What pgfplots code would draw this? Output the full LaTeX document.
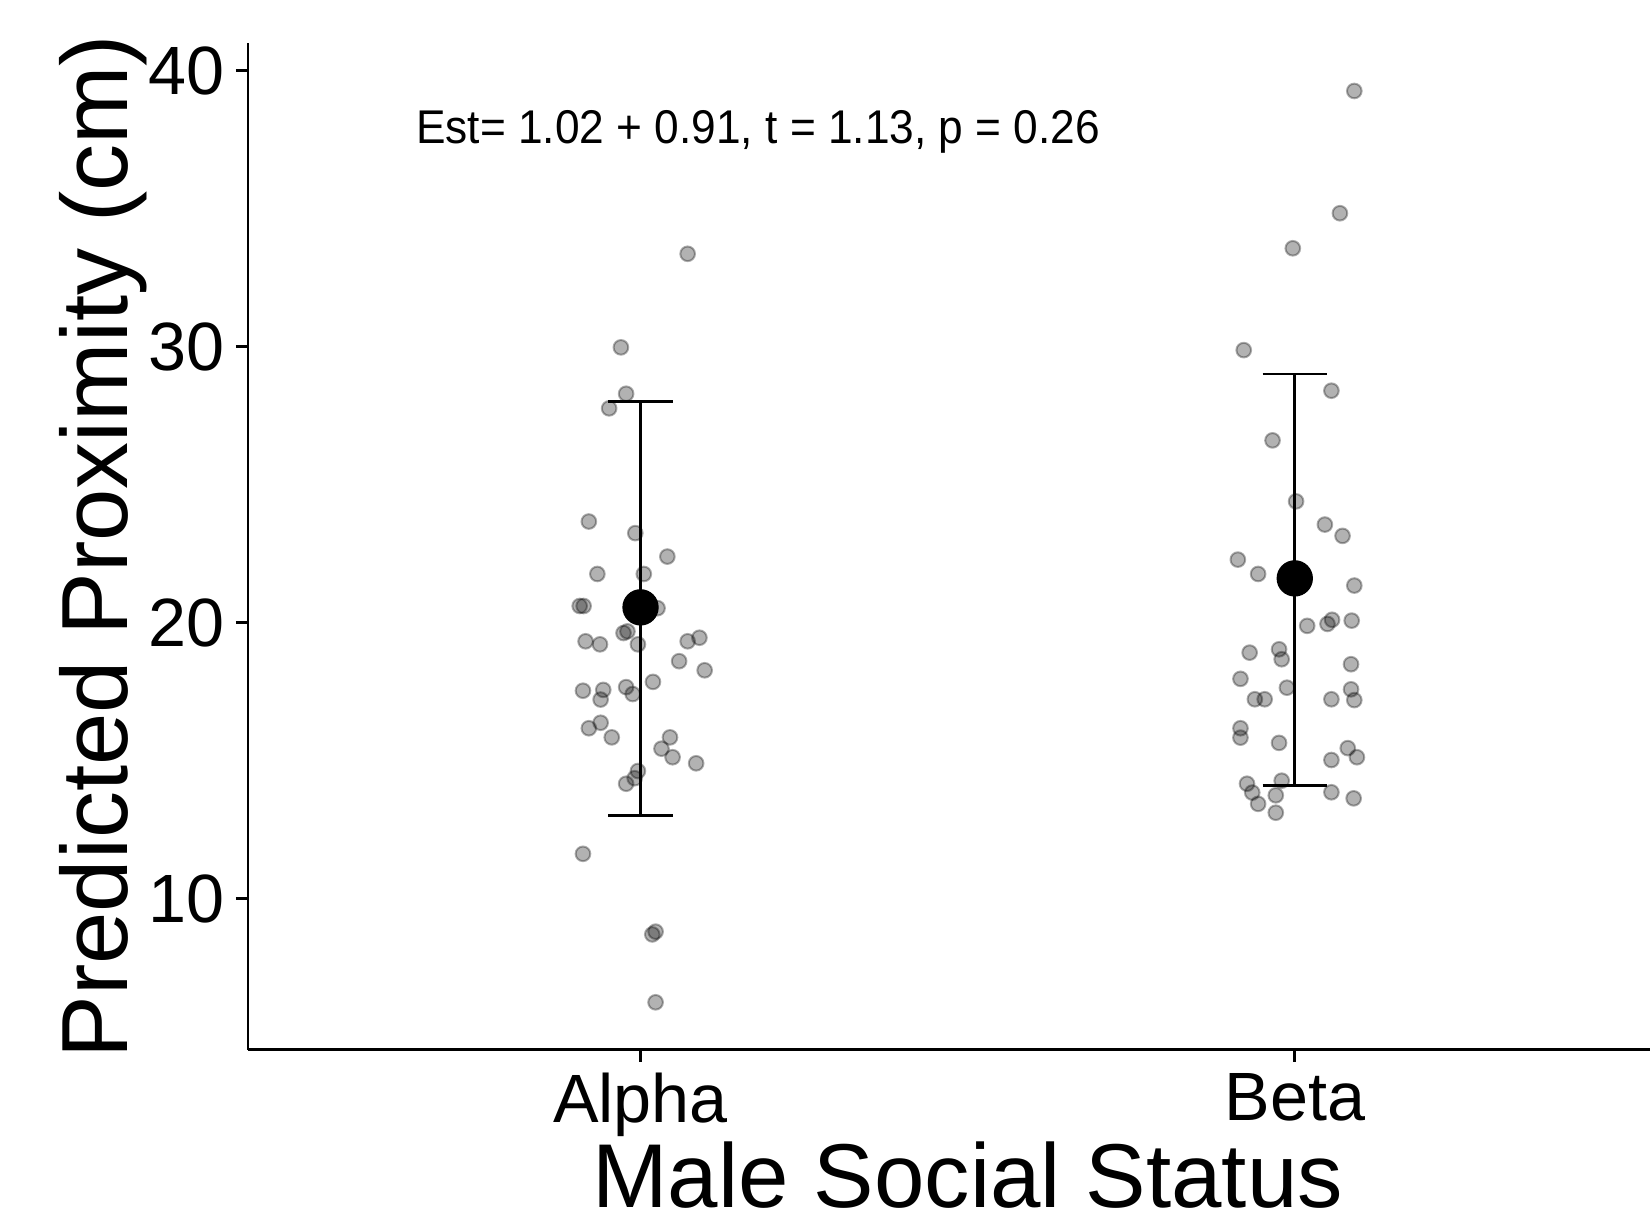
\documentclass[border=0pt]{standalone}
\usepackage{fontspec}
\setmainfont{Liberation Sans}
\usepackage{pgfplots}
\pgfplotsset{compat=1.18}

\begin{document}
\begin{tikzpicture}
\begin{axis}[
  at={(0,0)}, anchor=south west,
  scale only axis,
  width=420.6pt, height=301.8pt,
  xmin=0.4, xmax=2.543, ymin=4.53, ymax=40.98,
  axis x line=bottom, axis y line=left,
  axis line style={-, line width=0.8pt, black},
  xtick={1,2}, xticklabels={Alpha,Beta},
  ytick={10,20,30,40},
  tick align=outside,
  major tick length=3.6pt,
  tick style={line width=0.8pt, black},
  ticklabel style={font=\fontsize{20.5}{24}\selectfont},
  /pgf/number format/assume math mode=true,
  xlabel={Male Social Status},
  ylabel={Predicted Proximity (cm)},
  xlabel style={font=\fontsize{27.2}{33}\selectfont, at={(axis description cs:0.5133,-0.157)}, anchor=base},
  ylabel style={font=\fontsize{28.2}{33}\selectfont, at={(axis description cs:-0.0856,0.5)}, anchor=base},
  clip=false,
]
% jittered observations
\addplot[only marks, mark=*, mark size=2.2pt,
  mark options={fill=black, draw=black, fill opacity=0.3, draw opacity=0.32, line width=0.6pt}]
  table {
x y
1.072 33.36
0.970 29.97
0.978 28.29
0.952 27.76
0.921 23.66
0.992 23.24
1.041 22.39
0.934 21.76
1.005 21.76
0.907 20.60
0.913 20.60
1.026 20.52
0.974 19.62
0.980 19.68
0.916 19.32
0.938 19.21
0.996 19.21
1.072 19.32
1.090 19.45
1.059 18.60
1.098 18.27
1.019 17.85
0.912 17.53
0.943 17.56
0.939 17.21
0.978 17.66
0.988 17.41
0.939 16.37
0.921 16.17
0.956 15.84
1.045 15.84
1.032 15.43
1.049 15.12
1.085 14.90
0.996 14.62
0.991 14.36
0.978 14.16
0.912 11.62
1.018 8.70
1.023 8.80
1.023 6.24
2.091 39.26
2.069 34.83
1.997 33.56
1.922 29.87
2.056 28.40
1.966 26.60
2.002 24.39
2.046 23.55
2.073 23.14
1.913 22.28
1.944 21.76
2.091 21.34
2.019 19.88
2.050 19.95
2.057 20.10
2.087 20.07
1.931 18.91
1.976 19.03
1.980 18.67
2.086 18.49
1.917 17.96
1.988 17.64
1.939 17.22
1.954 17.22
2.056 17.22
2.086 17.58
2.091 17.19
1.917 16.17
1.917 15.83
1.976 15.64
2.081 15.45
2.095 15.12
2.056 15.02
1.927 14.16
1.980 14.27
1.935 13.84
1.971 13.74
2.056 13.85
1.944 13.43
2.090 13.63
1.971 13.11
};
% error bars
\addplot[line width=0.8pt, black] coordinates {(1,13.0) (1,28.0)};
\addplot[line width=0.8pt, black] coordinates {(0.951,28.0) (1.049,28.0)};
\addplot[line width=0.8pt, black] coordinates {(0.951,13.0) (1.049,13.0)};
\addplot[line width=0.8pt, black] coordinates {(2,14.1) (2,29.0)};
\addplot[line width=0.8pt, black] coordinates {(1.951,29.0) (2.049,29.0)};
\addplot[line width=0.8pt, black] coordinates {(1.951,14.1) (2.049,14.1)};
% means
\addplot[only marks, mark=*, mark size=5.25pt, black] coordinates {(1,20.55) (2,21.6)};
\node[anchor=base west, font=\fontsize{14.2}{17}\selectfont, xscale=0.935, inner sep=0pt]
  at (axis cs:0.656,37.34) {Est= 1.02 + 0.91, t = 1.13, p = 0.26};
\end{axis}
\pgfresetboundingbox
\path[use as bounding box] (-74.4pt,-49.9pt) rectangle (420.6pt,314.85pt);
\end{tikzpicture}
\end{document}
